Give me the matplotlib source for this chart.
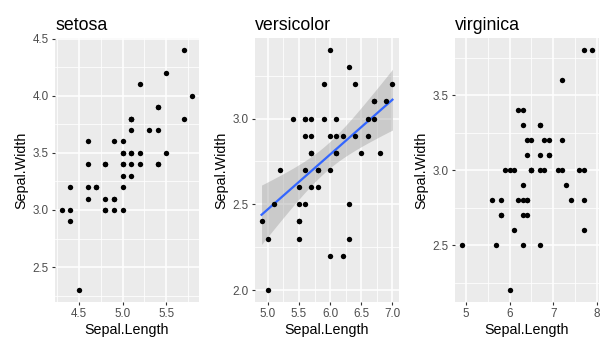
import numpy as np
import matplotlib.pyplot as plt

plt.rcParams['font.family'] = ['Liberation Sans', 'DejaVu Sans']

# iris sepal measurements, by species
setosa_len = [5.1, 4.9, 4.7, 4.6, 5.0, 5.4, 4.6, 5.0, 4.4, 4.9, 5.4, 4.8, 4.8, 4.3, 5.8, 5.7, 5.4,
              5.1, 5.7, 5.1, 5.4, 5.1, 4.6, 5.1, 4.8, 5.0, 5.0, 5.2, 5.2, 4.7, 4.8, 5.4, 5.2, 5.5,
              4.9, 5.0, 5.5, 4.9, 4.4, 5.1, 5.0, 4.5, 4.4, 5.0, 5.1, 4.8, 5.1, 4.6, 5.3, 5.0]
setosa_wid = [3.5, 3.0, 3.2, 3.1, 3.6, 3.9, 3.4, 3.4, 2.9, 3.1, 3.7, 3.4, 3.0, 3.0, 4.0, 4.4, 3.9,
              3.5, 3.8, 3.8, 3.4, 3.7, 3.6, 3.3, 3.4, 3.0, 3.4, 3.5, 3.4, 3.2, 3.1, 3.4, 4.1, 4.2,
              3.1, 3.2, 3.5, 3.6, 3.0, 3.4, 3.5, 2.3, 3.2, 3.5, 3.8, 3.0, 3.8, 3.2, 3.7, 3.3]
versi_len = [7.0, 6.4, 6.9, 5.5, 6.5, 5.7, 6.3, 4.9, 6.6, 5.2, 5.0, 5.9, 6.0, 6.1, 5.6, 6.7, 5.6,
             5.8, 6.2, 5.6, 5.9, 6.1, 6.3, 6.1, 6.4, 6.6, 6.8, 6.7, 6.0, 5.7, 5.5, 5.5, 5.8, 6.0,
             5.4, 6.0, 6.7, 6.3, 5.6, 5.5, 5.5, 6.1, 5.8, 5.0, 5.6, 5.7, 5.7, 6.2, 5.1, 5.7]
versi_wid = [3.2, 3.2, 3.1, 2.3, 2.8, 2.8, 3.3, 2.4, 2.9, 2.7, 2.0, 3.0, 2.2, 2.9, 2.9, 3.1, 3.0,
             2.7, 2.2, 2.5, 3.2, 2.8, 2.5, 2.8, 2.9, 3.0, 2.8, 3.0, 2.9, 2.6, 2.4, 2.4, 2.7, 2.7,
             3.0, 3.4, 3.1, 2.3, 3.0, 2.5, 2.6, 3.0, 2.6, 2.3, 2.7, 3.0, 2.9, 2.9, 2.5, 2.8]
virg_len = [6.3, 5.8, 7.1, 6.3, 6.5, 7.6, 4.9, 7.3, 6.7, 7.2, 6.5, 6.4, 6.8, 5.7, 5.8, 6.4, 6.5,
            7.7, 7.7, 6.0, 6.9, 5.6, 7.7, 6.3, 6.7, 7.2, 6.2, 6.1, 6.4, 7.2, 7.4, 7.9, 6.4, 6.3,
            6.1, 7.7, 6.3, 6.4, 6.0, 6.9, 6.7, 6.9, 5.8, 6.8, 6.7, 6.7, 6.3, 6.5, 6.2, 5.9]
virg_wid = [3.3, 2.7, 3.0, 2.9, 3.0, 3.0, 2.5, 2.9, 2.5, 3.6, 3.2, 2.7, 3.0, 2.5, 2.8, 3.2, 3.0,
            3.8, 2.6, 2.2, 3.2, 2.8, 2.8, 2.7, 3.3, 3.2, 2.8, 3.0, 2.8, 3.0, 2.8, 3.8, 2.8, 2.8,
            2.6, 3.0, 3.4, 3.1, 3.0, 3.1, 3.1, 3.1, 2.7, 3.2, 3.3, 3.0, 2.5, 3.0, 3.4, 3.0]

titles = ['setosa', 'versicolor', 'virginica']
xticks = [[4.5, 5.0, 5.5], [5.0, 5.5, 6.0, 6.5, 7.0], [5, 6, 7, 8]]
yticks = [[2.5, 3.0, 3.5, 4.0, 4.5], [2.0, 2.5, 3.0], [2.5, 3.0, 3.5]]
xfmt = ['%.1f', '%.1f', '%d']

fig = plt.figure(figsize=(6.13, 3.54), dpi=100)
W, H = 613, 354
lefts = [55, 255, 455]
datas = [(setosa_len, setosa_wid), (versi_len, versi_wid), (virg_len, virg_wid)]

for i, (xs, ys) in enumerate(datas):
    xs = np.array(xs); ys = np.array(ys)
    ax = fig.add_axes([lefts[i] / W, 1 - 302 / H, 144 / W, (302 - 38) / H])
    ax.set_facecolor('#EBEBEB')
    for s in ax.spines.values():
        s.set_visible(False)

    ylo, yhi = ys.min(), ys.max()
    if i == 1:
        # linear fit with 95% confidence band
        n = len(xs)
        b, a = np.polyfit(xs, ys, 1)
        res = ys - (a + b * xs)
        sd = np.sqrt(np.sum(res ** 2) / (n - 2))
        sxx = np.sum((xs - xs.mean()) ** 2)
        xg = np.linspace(xs.min(), xs.max(), 80)
        yg = a + b * xg
        se = sd * np.sqrt(1 / n + (xg - xs.mean()) ** 2 / sxx)
        t = 2.0106
        ax.fill_between(xg, yg - t * se, yg + t * se, color='#999999', alpha=0.4, lw=0, zorder=2)
        ax.plot(xg, yg, color='#3366FF', lw=1.6, zorder=3)
        ylo = min(ylo, (yg - t * se).min()); yhi = max(yhi, (yg + t * se).max())

    ax.scatter(xs, ys, s=15, color='black', zorder=4, linewidths=0)

    xt = xticks[i]; yt = yticks[i]
    ax.set_xticks(xt)
    ax.set_xticklabels([xfmt[i] % v for v in xt])
    ax.set_yticks(yt)
    ax.set_yticklabels(['%.1f' % v for v in yt])
    dx = xt[1] - xt[0]; dy = yt[1] - yt[0]
    ax.set_xticks([v + dx / 2 for v in [xt[0] - dx] + xt], minor=True)
    ax.set_yticks([v + dy / 2 for v in [yt[0] - dy] + yt], minor=True)

    xr = xs.max() - xs.min()
    ax.set_xlim(xs.min() - 0.05 * xr, xs.max() + 0.05 * xr)
    yr = yhi - ylo
    ax.set_ylim(ylo - 0.05 * yr, yhi + 0.05 * yr)

    ax.grid(True, which='major', color='white', lw=1.1, zorder=0)
    ax.grid(True, which='minor', color='white', lw=0.55, zorder=0)
    ax.set_axisbelow(True)
    ax.tick_params(which='major', length=2.5, width=0.8, color='#333333',
                   labelcolor='#4D4D4D', labelsize=8.4, pad=2)
    ax.tick_params(which='minor', length=0)

    ax.set_xlabel('Sepal.Length', fontsize=10.3, labelpad=2)
    ax.set_ylabel('Sepal.Width', fontsize=10.3, labelpad=3)
    ax.set_title(titles[i], fontsize=12.8, loc='left', pad=6)

fig.savefig('out.png', dpi=100)
